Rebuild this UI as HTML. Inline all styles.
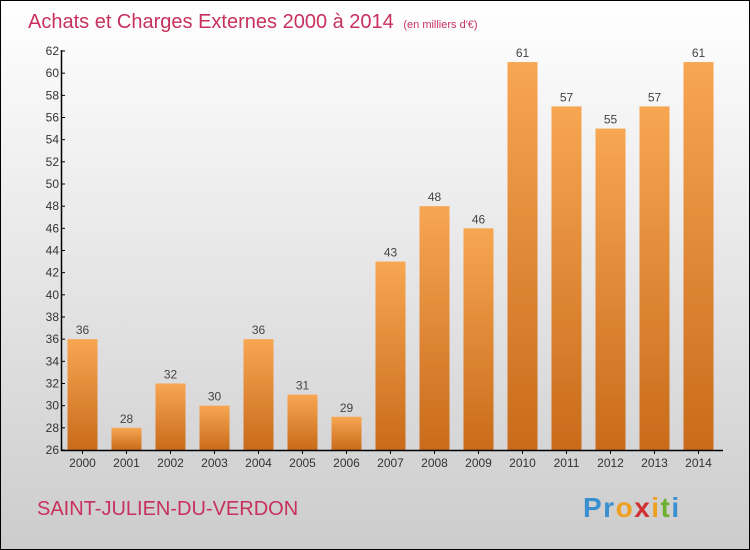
<!DOCTYPE html>
<html><head><meta charset="utf-8"><style>
body{margin:0;width:750px;height:550px;overflow:hidden;font-family:"Liberation Sans",sans-serif}
#c{position:relative;width:748px;height:548px;border:1px solid #000;background:linear-gradient(#fff,#ccc)}
</style></head><body>
<div id="c">
<svg id="s" width="748" height="548" style="position:absolute;left:0;top:0">
<text x="27" y="27" font-size="20" fill="#c8305e">Achats et Charges Externes 2000 à 2014 <tspan font-size="11" dx="4">(en milliers d'€)</tspan></text>
<text x="36" y="514" font-size="20" fill="#c8305e">SAINT-JULIEN-DU-VERDON</text>
<g font-size="28" font-weight="bold">
<text x="582" y="516" letter-spacing="1.5"><tspan fill="#3a8fd0">Pr</tspan><tspan fill="#f0a020">o</tspan><tspan fill="#d03030">x</tspan><tspan fill="#f0a020">i</tspan><tspan fill="#70b030">t</tspan><tspan fill="#3a8fd0">i</tspan></text>
</g>
<defs><linearGradient id="g" x1="0" y1="0" x2="0" y2="1"><stop offset="0" stop-color="#f7a652"/><stop offset="1" stop-color="#c96b1a"/></linearGradient></defs>
<g id="bars"></g><g id="axes"></g>
</svg>
</div>
<script>
const years=["2000","2001","2002","2003","2004","2005","2006","2007","2008","2009","2010","2011","2012","2013","2014"];
const values=[36,28,32,30,36,31,29,43,48,46,61,57,55,57,61];
const yTicks=[26,28,30,32,34,36,38,40,42,44,46,48,50,52,54,56,58,60,62];
const NS="http://www.w3.org/2000/svg";
const s=document.getElementById('s'),bars=document.getElementById('bars'),axes=document.getElementById('axes');
const y=v=>449-(v-26)*(399/36);
const x=i=>81.5+44*i;
function el(t,a,p){const e=document.createElementNS(NS,t);for(const k in a)e.setAttribute(k,a[k]);p.appendChild(e);return e;}
values.forEach((v,i)=>{
 const r=el('rect',{x:x(i)-15,y:y(v),width:30,height:449-y(v),fill:'url(#g)'},bars);
 
 
 const t=el('text',{x:x(i),y:y(v)-5,'text-anchor':'middle','font-size':12,fill:'#444'},bars);
 t.textContent=v;
 
 
 const xt=el('text',{x:x(i),y:466,'text-anchor':'middle','font-size':12,fill:'#333'},axes);
 xt.textContent=years[i];
 
 
 el('line',{x1:x(i),x2:x(i),y1:449,y2:453,stroke:'#000'},axes);
});
yTicks.forEach(v=>{
 el('line',{x1:60,x2:64,y1:y(v),y2:y(v),stroke:'#000'},axes);
 const t=el('text',{x:58,y:y(v)+4,'text-anchor':'end','font-size':12,fill:'#333'},axes);
 t.textContent=v;
 
 
});
const ya=el('line',{x1:60.5,x2:60.5,y1:49,y2:450,stroke:'#000','stroke-width':1.5},axes);


const xa=el('line',{x1:60,x2:722,y1:449.5,y2:449.5,stroke:'#000','stroke-width':1.5},axes);


</script>
</body></html>
